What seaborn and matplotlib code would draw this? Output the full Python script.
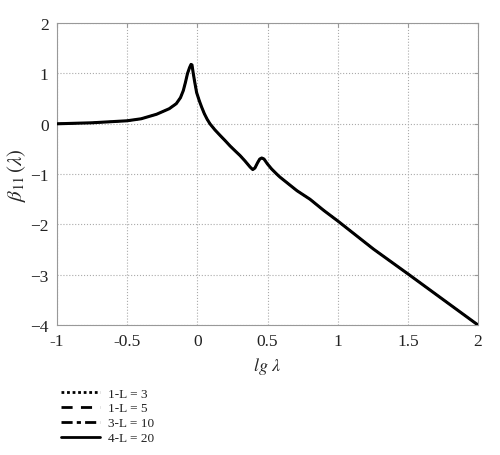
import numpy as np
import pandas as pd
import matplotlib
matplotlib.use('Agg')
import matplotlib.pyplot as plt
import seaborn as sns

# values (all four curves coincide)
lg_lambda = [-1.0, -0.75, -0.5, -0.4, -0.29, -0.2, -0.15, -0.12, -0.1, -0.085,
             -0.07, -0.055, -0.045, -0.038, -0.03, -0.02, -0.005, 0.015, 0.031, 0.05,
             0.07, 0.09, 0.125, 0.162, 0.2, 0.233, 0.27, 0.304, 0.34, 0.376,
             0.395, 0.41, 0.43, 0.445, 0.459, 0.475, 0.5, 0.53, 0.566, 0.589,
             0.71, 0.803, 0.9, 1.0, 1.255, 1.504, 2.0]
beta11 = [0.0, 0.02, 0.06, 0.1, 0.19, 0.3, 0.4, 0.52, 0.66, 0.82,
          1.0, 1.12, 1.18, 1.17, 1.02, 0.85, 0.62, 0.45, 0.33, 0.2,
          0.09, 0.0, -0.12, -0.23, -0.34, -0.44, -0.54, -0.63, -0.74, -0.86,
          -0.91, -0.88, -0.77, -0.70, -0.68, -0.70, -0.80, -0.90, -1.0, -1.06,
          -1.33, -1.50, -1.72, -1.93, -2.49, -2.99, -4.0]
series = ['1-L = 3', '1-L = 5', '3-L = 10', '4-L = 20']
dash_styles = {'1-L = 3': (1, 1), '1-L = 5': (4, 3), '3-L = 10': (4, 1.5, 1.5, 1.5), '4-L = 20': ''}
x_ticks = [-1, -0.5, 0, 0.5, 1, 1.5, 2]
x_tick_labels = ['-1', '-0.5', '0', '0.5', '1', '1.5', '2']
y_ticks = [-4, -3, -2, -1, 0, 1, 2]

df = pd.concat([pd.DataFrame({'lg': lg_lambda, 'beta': beta11, 'curve': s}) for s in series],
               ignore_index=True)

sns.set_style('white')
plt.rcParams['font.family'] = ['Liberation Serif', 'DejaVu Serif']
plt.rcParams['mathtext.fontset'] = 'stix'

fig = plt.figure(figsize=(5, 4.56), dpi=100)
ax = fig.add_axes([0.114, 0.285, 0.842, 0.662])

sns.lineplot(data=df, x='lg', y='beta', style='curve', dashes=dash_styles,
             color='black', linewidth=2.2, sort=False, ax=ax, legend=False)
lines = ax.get_lines()
for ln in lines[:-1]:
    ln.set_linewidth(1.2)  # hidden under the solid curve
lines[-1].set_solid_joinstyle('round')
lines[-1].set_zorder(5)

ax.set_xlim(-1, 2)
ax.set_ylim(-4, 2)
ax.set_xticks(x_ticks)
ax.set_xticklabels(x_tick_labels)
ax.set_yticks(y_ticks)
ax.grid(True, linestyle=':', color='#aaaaaa', linewidth=0.8)
for sp in ax.spines.values():
    sp.set_color('#999999')
    sp.set_linewidth(0.8)
ax.tick_params(direction='in', length=3, color='#999999', labelsize=12.5,
               top=True, right=True, labelcolor='#222222', pad=6)

ax.set_xlabel(r'$lg\ \lambda$', fontsize=13, labelpad=4)
ax.set_ylabel(r'$\beta_{11}\,(\lambda)$', fontsize=15)
ax.yaxis.set_label_coords(-0.07, 0.5)

# legend below the axes
handles = [plt.Line2D([], [], color='black', linewidth=2,
                      linestyle=(0, dash_styles[s]) if dash_styles[s] else '-') for s in series]
fig.legend(handles, series, loc='upper left', bbox_to_anchor=(0.108, 0.163),
           frameon=False, fontsize=9.5, handlelength=3.0, handletextpad=0.6,
           labelspacing=0.2, borderpad=0, labelcolor='#222222')

fig.savefig('out.png', dpi=100)
